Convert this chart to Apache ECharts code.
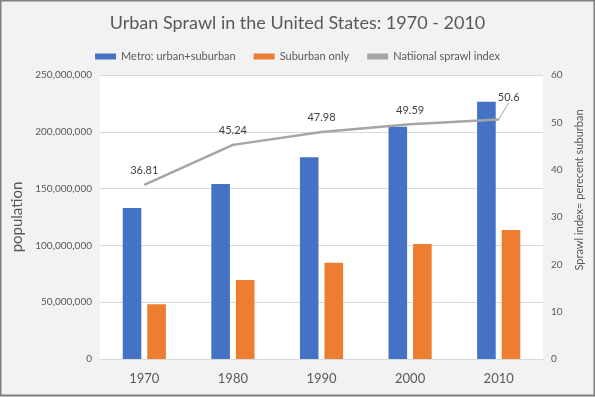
<!DOCTYPE html>
<html>
<head>
<meta charset="utf-8">
<script src="https://cdn.jsdelivr.net/npm/echarts@6/dist/echarts.min.js"></script>
<style>
	html, body { margin: 0; padding: 0; }
	#chart { width: 595px; height: 397px; }
</style>
</head>
<body>
<div id="chart"></div>
<script>
	// data
	const years = ['1970', '1980', '1990', '2000', '2010'];
	const metro = [133000000, 154000000, 177600000, 204500000, 226500000];
	const suburban = [48200000, 69500000, 84800000, 101200000, 113600000];
	const sprawl = [36.81, 45.24, 47.98, 49.59, 50.6];

	const txt = '#595959';
	const font = 'Lato';

	const chart = echarts.init(document.getElementById('chart'));

	const option = {
		backgroundColor: '#f2f2f2',
		animation: false,
		textStyle: { fontFamily: font },
		title: {
			text: 'Urban Sprawl in the United States: 1970 - 2010',
			left: 'center',
			top: 9,
			textStyle: { fontFamily: font, fontSize: 18, fontWeight: 'normal', color: txt }
		},
		legend: {
			top: 46,
			left: 'center',
			itemWidth: 21,
			itemHeight: 6,
			itemGap: 18,
			textStyle: { fontFamily: font, fontSize: 11, color: txt },
			data: [
				{ name: 'Metro: urban+suburban', icon: 'rect' },
				{ name: 'Suburban only', icon: 'rect' },
				{ name: 'Natiional sprawl index', icon: 'rect', itemStyle: { color: '#a5a5a5' } }
			]
		},
		grid: {
			left: 100,
			right: 52,
			top: 75,
			bottom: 38,
			show: true,
			backgroundColor: '#ffffff',
			borderWidth: 0
		},
		xAxis: {
			type: 'category',
			data: years,
			axisTick: { show: false },
			axisLine: { lineStyle: { color: '#d9d9d9' } },
			axisLabel: { color: txt, fontSize: 13, margin: 13, fontFamily: font }
		},
		yAxis: [
			{
				type: 'value',
				min: 0,
				max: 250000000,
				interval: 50000000,
				name: 'population',
				nameLocation: 'middle',
				nameGap: 60,
				nameTextStyle: { color: txt, fontSize: 15, fontFamily: font },
				axisLabel: {
					color: txt,
					fontSize: 10,
					margin: 8,
					fontFamily: font,
					formatter: v => v.toLocaleString('en-US')
				},
				splitLine: { lineStyle: { color: '#d9d9d9' } }
			},
			{
				type: 'value',
				min: 0,
				max: 60,
				interval: 10,
				name: 'Sprawl index= perecent suburban',
				nameLocation: 'middle',
				nameRotate: 90,
				nameGap: 22,
				nameTextStyle: { color: txt, fontSize: 11, fontFamily: font, padding: [0, 0, 0, 54] },
				axisLabel: { color: txt, fontSize: 10, margin: 8, fontFamily: font },
				splitLine: { show: false }
			}
		],
		series: [
			{
				name: 'Metro: urban+suburban',
				type: 'bar',
				data: metro,
				barWidth: '21%',
				barGap: '32%',
				itemStyle: { color: '#4472c4' }
			},
			{
				name: 'Suburban only',
				type: 'bar',
				data: suburban,
				barWidth: '21%',
				itemStyle: { color: '#ed7d31' }
			},
			{
				name: 'Natiional sprawl index',
				type: 'line',
				yAxisIndex: 1,
				symbol: 'circle',
				symbolSize: 1,
				showSymbol: true,
				lineStyle: { color: '#a5a5a5', width: 2.5 },
				itemStyle: { color: '#a5a5a5' },
				label: {
					show: true,
					position: 'top',
					distance: 8,
					color: '#404040',
					fontSize: 11,
					fontFamily: font
				},
				labelLayout: params => params.dataIndex === sprawl.length - 1 ? { dx: 10, dy: -8 } : {},
				labelLine: { show: false },
				data: sprawl.map((v, i) => i === sprawl.length - 1
					? { value: v, labelLine: { show: true, lineStyle: { color: '#a5a5a5', width: 1 } } }
					: v)
			}
		],
		graphic: [
			{
				type: 'rect',
				shape: { x: 0.5, y: 0.5, width: 594, height: 395 },
				style: { fill: null, stroke: '#7f7f7f', lineWidth: 2 },
				silent: true
			}
		]
	};

	chart.setOption(option);
</script>
</body>
</html>
